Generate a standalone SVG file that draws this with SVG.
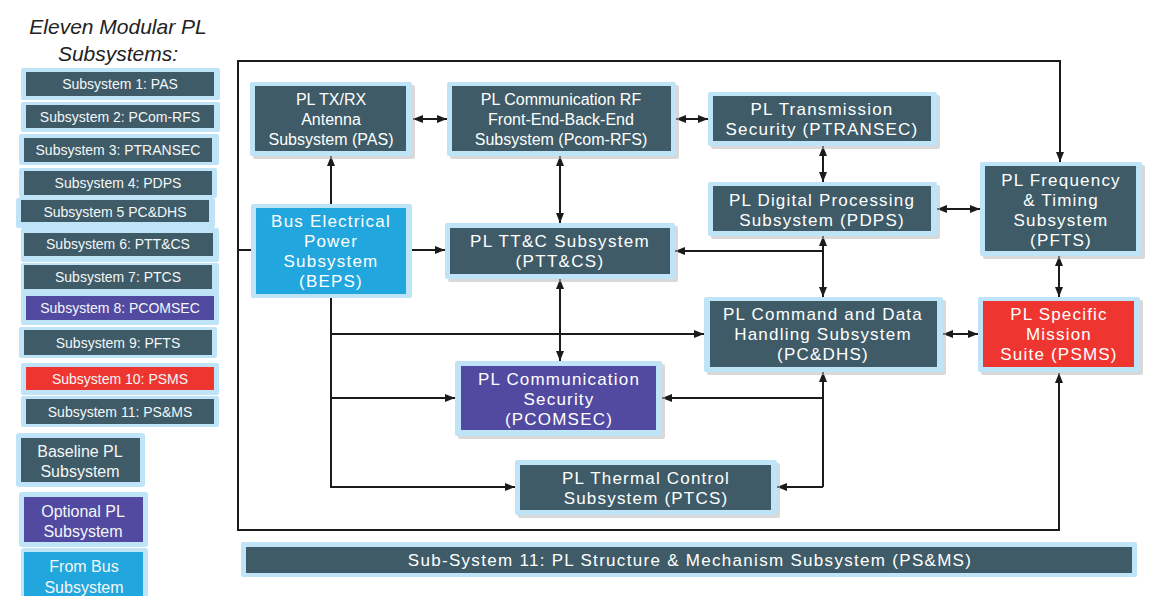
<svg xmlns="http://www.w3.org/2000/svg" width="1159" height="596" viewBox="0 0 1159 596">
  <defs>
    <style>
      .halo { fill: #bfe4f8; }
      .shadow { fill: #b9b9b9; opacity: 0.55; }
      .base { fill: #3e5b67; }
      .opt { fill: #524aa1; }
      .bus { fill: #22a6de; }
      .red { fill: #ee352f; }
      .lg { font-family: "Liberation Sans", Arial, sans-serif; font-size: 14px; fill: #f4f7f8; text-anchor: middle; dominant-baseline: central; }
      .lg2 { font-family: "Liberation Sans", Arial, sans-serif; font-size: 16px; fill: #f4f7f8; text-anchor: middle; dominant-baseline: central; }
      .nt { font-family: "Liberation Sans", Arial, sans-serif; font-size: 17px; letter-spacing: 1.2px; fill: #ffffff; text-anchor: middle; dominant-baseline: central; }
      .nt.plain { font-size: 16px; letter-spacing: 0; }
      .nt.wide { letter-spacing: 1.3px; }
      .title { font-family: "Liberation Sans", Arial, sans-serif; font-size: 21px; font-style: italic; fill: #222222; text-anchor: middle; }
      .wire { fill: none; stroke: #1b1b1b; stroke-width: 2; }
    </style>
    <marker id="arr" viewBox="0 0 10 8" refX="10" refY="4" markerWidth="10" markerHeight="8" markerUnits="userSpaceOnUse" orient="auto-start-reverse">
      <path d="M0,0 L10,4 L0,8 z" fill="#1b1b1b"/>
    </marker>
  </defs>

  <rect width="1159" height="596" fill="#ffffff"/>

  <!-- Legend -->
  <g id="legend">
    <text class="title" x="118" y="34">Eleven Modular PL</text>
    <text class="title" x="118" y="61">Subsystems:</text>

    <g id="legend-1"><rect class="halo" x="21" y="68" width="199" height="32" rx="2"/><rect class="base" x="26" y="72" width="188" height="24"/><text class="lg" x="120" y="84">Subsystem 1: PAS</text></g>
    <g id="legend-2"><rect class="halo" x="21" y="102" width="199" height="30" rx="2"/><rect class="base" x="26" y="105" width="188" height="23"/><text class="lg" x="120" y="117">Subsystem 2: PCom-RFS</text></g>
    <g id="legend-3"><rect class="halo" x="19" y="134" width="200" height="31" rx="2"/><rect class="base" x="24" y="138" width="188" height="24"/><text class="lg" x="118" y="150">Subsystem 3: PTRANSEC</text></g>
    <g id="legend-4"><rect class="halo" x="19" y="168" width="198" height="30" rx="2"/><rect class="base" x="24" y="171" width="188" height="24"/><text class="lg" x="118" y="183">Subsystem 4: PDPS</text></g>
    <g id="legend-5"><rect class="halo" x="16" y="198" width="199" height="30" rx="2"/><rect class="base" x="21" y="200" width="188" height="22"/><text class="lg" x="115" y="212">Subsystem 5 PC&amp;DHS</text></g>
    <g id="legend-6"><rect class="halo" x="21" y="228" width="198" height="34" rx="2"/><rect class="base" x="24" y="233" width="189" height="23"/><text class="lg" x="118" y="244">Subsystem 6: PTT&amp;CS</text></g>
    <g id="legend-7"><rect class="halo" x="21" y="263" width="198" height="32" rx="2"/><rect class="base" x="24" y="265" width="188" height="24"/><text class="lg" x="118" y="277">Subsystem 7: PTCS</text></g>
    <g id="legend-8"><rect class="halo" x="21" y="293" width="198" height="32" rx="2"/><rect class="opt" x="26" y="296" width="188" height="24"/><text class="lg" x="120" y="308">Subsystem 8: PCOMSEC</text></g>
    <g id="legend-9"><rect class="halo" x="19" y="327" width="198" height="31" rx="2"/><rect class="base" x="24" y="330" width="188" height="25"/><text class="lg" x="118" y="343">Subsystem 9: PFTS</text></g>
    <g id="legend-10"><rect class="halo" x="21" y="363" width="198" height="32" rx="2"/><rect class="red" x="26" y="367" width="188" height="23"/><text class="lg" x="120" y="379">Subsystem 10: PSMS</text></g>
    <g id="legend-11"><rect class="halo" x="21" y="396" width="198" height="31" rx="2"/><rect class="base" x="26" y="399" width="188" height="25"/><text class="lg" x="120" y="412">Subsystem 11: PS&amp;MS</text></g>

    <g id="key-baseline"><rect class="halo" x="16" y="433" width="129" height="54" rx="3"/><rect class="base" x="21" y="438" width="119" height="44"/><text class="lg2" x="80" y="451">Baseline PL</text><text class="lg2" x="80" y="471">Subsystem</text></g>
    <g id="key-optional"><rect class="halo" x="19" y="492" width="129" height="55" rx="3"/><rect class="opt" x="24" y="497" width="119" height="45"/><text class="lg2" x="83" y="511">Optional PL</text><text class="lg2" x="83" y="531">Subsystem</text></g>
    <g id="key-bus"><rect class="halo" x="21" y="548" width="127" height="60" rx="3"/><rect class="bus" x="24" y="552" width="119" height="50"/><text class="lg2" x="84" y="566">From Bus</text><text class="lg2" x="84" y="587">Subsystem</text></g>
  </g>

  <!-- Connectors -->
  <g id="connectors">
    <!-- outer loop from BEPS to PFTS and PSMS -->
    <path class="wire" d="M251 250 H238 V61 H1060 V162" marker-end="url(#arr)"/>
    <path class="wire" d="M238 250 V530 H1059 V373" marker-end="url(#arr)"/>

    <path class="wire" d="M413 119 H447" marker-start="url(#arr)" marker-end="url(#arr)"/>
    <path class="wire" d="M676 119 H708" marker-start="url(#arr)" marker-end="url(#arr)"/>
    <path class="wire" d="M823 146 V182" marker-start="url(#arr)" marker-end="url(#arr)"/>
    <path class="wire" d="M937 209 H980" marker-start="url(#arr)" marker-end="url(#arr)"/>
    <path class="wire" d="M331 204 V156" marker-end="url(#arr)"/>
    <path class="wire" d="M560 156 V223" marker-start="url(#arr)" marker-end="url(#arr)"/>
    <path class="wire" d="M412 250 H445" marker-end="url(#arr)"/>
    <path class="wire" d="M823 236 V297" marker-start="url(#arr)" marker-end="url(#arr)"/>
    <path class="wire" d="M823 251 H675" marker-end="url(#arr)"/>
    <path class="wire" d="M1059 256 V297" marker-start="url(#arr)" marker-end="url(#arr)"/>
    <path class="wire" d="M560 279 V361" marker-start="url(#arr)" marker-end="url(#arr)"/>
    <path class="wire" d="M943 334 H978" marker-start="url(#arr)" marker-end="url(#arr)"/>

    <!-- BEPS power distribution bus -->
    <path class="wire" d="M331 298 V487 H515" marker-end="url(#arr)"/>
    <path class="wire" d="M331 334 H704" marker-end="url(#arr)"/>
    <path class="wire" d="M331 398 H455" marker-end="url(#arr)"/>

    <!-- PC&DHS control links -->
    <path class="wire" d="M823 487 V372" marker-end="url(#arr)"/>
    <path class="wire" d="M823 487 H777" marker-end="url(#arr)"/>
    <path class="wire" d="M823 398 H662" marker-end="url(#arr)"/>
  </g>

  <!-- Nodes -->
  <g id="PAS">
    <rect class="shadow" x="253" y="85" width="162" height="74" rx="2"/>
    <rect class="halo" x="250" y="82" width="162" height="74" rx="2"/>
    <rect class="base" x="255" y="86" width="151" height="65"/>
    <text class="nt plain" x="331" y="99">PL TX/RX</text>
    <text class="nt plain" x="331" y="119">Antenna</text>
    <text class="nt plain" x="331" y="139">Subsystem (PAS)</text>
  </g>

  <g id="PCOM-RFS">
    <rect class="shadow" x="450" y="85" width="229" height="74" rx="2"/>
    <rect class="halo" x="447" y="82" width="229" height="74" rx="2"/>
    <rect class="base" x="452" y="86" width="219" height="65"/>
    <text class="nt plain" x="561" y="99">PL Communication  RF</text>
    <text class="nt plain" x="561" y="119">Front-End-Back-End</text>
    <text class="nt plain" x="561" y="139">Subsystem (Pcom-RFS)</text>
  </g>

  <g id="PTRANSEC">
    <rect class="shadow" x="711" y="95" width="229" height="54" rx="2"/>
    <rect class="halo" x="708" y="92" width="229" height="54" rx="2"/>
    <rect class="base" x="713" y="96" width="218" height="45"/>
    <text class="nt" x="822" y="109">PL Transmission</text>
    <text class="nt" x="822" y="129">Security (PTRANSEC)</text>
  </g>

  <g id="PDPS">
    <rect class="shadow" x="711" y="185" width="229" height="54" rx="2"/>
    <rect class="halo" x="708" y="182" width="229" height="54" rx="2"/>
    <rect class="base" x="713" y="186" width="218" height="45"/>
    <text class="nt" x="822" y="200">PL Digital Processing</text>
    <text class="nt" x="822" y="220">Subsystem (PDPS)</text>
  </g>

  <g id="PFTS">
    <rect class="shadow" x="983" y="165" width="162" height="94" rx="2"/>
    <rect class="halo" x="980" y="162" width="162" height="94" rx="2"/>
    <rect class="base" x="985" y="166" width="151" height="85"/>
    <text class="nt" x="1061" y="180">PL Frequency</text>
    <text class="nt" x="1061" y="200">&amp; Timing</text>
    <text class="nt" x="1061" y="220">Subsystem</text>
    <text class="nt" x="1061" y="240">(PFTS)</text>
  </g>

  <g id="BEPS">
    <rect class="halo" x="251" y="204" width="161" height="94" rx="2"/>
    <rect class="bus" x="256" y="208" width="150" height="86"/>
    <text class="nt" x="331" y="221">Bus Electrical</text>
    <text class="nt" x="331" y="241">Power</text>
    <text class="nt" x="331" y="261">Subsystem</text>
    <text class="nt" x="331" y="281">(BEPS)</text>
  </g>

  <g id="PTTCS">
    <rect class="shadow" x="448" y="226" width="230" height="56" rx="2"/>
    <rect class="halo" x="445" y="223" width="230" height="56" rx="2"/>
    <rect class="base" x="450" y="228" width="220" height="46"/>
    <text class="nt wide" x="560" y="241">PL TT&amp;C Subsystem</text>
    <text class="nt wide" x="560" y="261">(PTT&amp;CS)</text>
  </g>

  <g id="PCDHS">
    <rect class="shadow" x="707" y="300" width="239" height="75" rx="2"/>
    <rect class="halo" x="704" y="297" width="239" height="75" rx="2"/>
    <rect class="base" x="710" y="301" width="227" height="66"/>
    <text class="nt" x="823" y="314">PL Command and Data</text>
    <text class="nt" x="823" y="334">Handling Subsystem</text>
    <text class="nt" x="823" y="354">(PC&amp;DHS)</text>
  </g>

  <g id="PSMS">
    <rect class="shadow" x="981" y="300" width="162" height="75" rx="2"/>
    <rect class="halo" x="978" y="297" width="162" height="75" rx="2"/>
    <rect class="red" x="983" y="301" width="151" height="66"/>
    <text class="nt" x="1059" y="314">PL Specific</text>
    <text class="nt" x="1059" y="334">Mission</text>
    <text class="nt" x="1059" y="354">Suite (PSMS)</text>
  </g>

  <g id="PCOMSEC">
    <rect class="shadow" x="458" y="364" width="207" height="75" rx="2"/>
    <rect class="halo" x="455" y="361" width="207" height="75" rx="2"/>
    <rect class="opt" x="461" y="366" width="195" height="64"/>
    <text class="nt" x="559" y="379">PL Communication</text>
    <text class="nt" x="559" y="399">Security</text>
    <text class="nt" x="559" y="419">(PCOMSEC)</text>
  </g>

  <g id="PTCS">
    <rect class="shadow" x="518" y="463" width="262" height="55" rx="2"/>
    <rect class="halo" x="515" y="460" width="262" height="55" rx="2"/>
    <rect class="base" x="520" y="465" width="251" height="45"/>
    <text class="nt" x="646" y="478">PL Thermal Control</text>
    <text class="nt" x="646" y="498">Subsystem (PTCS)</text>
  </g>

  <g id="PSMS-structure">
    <rect class="halo" x="241" y="542" width="896" height="35" rx="2"/>
    <rect class="base" x="246" y="547" width="886" height="26"/>
    <text class="nt wide" x="690" y="560">Sub-System 11: PL Structure &amp; Mechanism Subsystem (PS&amp;MS)</text>
  </g>
</svg>
